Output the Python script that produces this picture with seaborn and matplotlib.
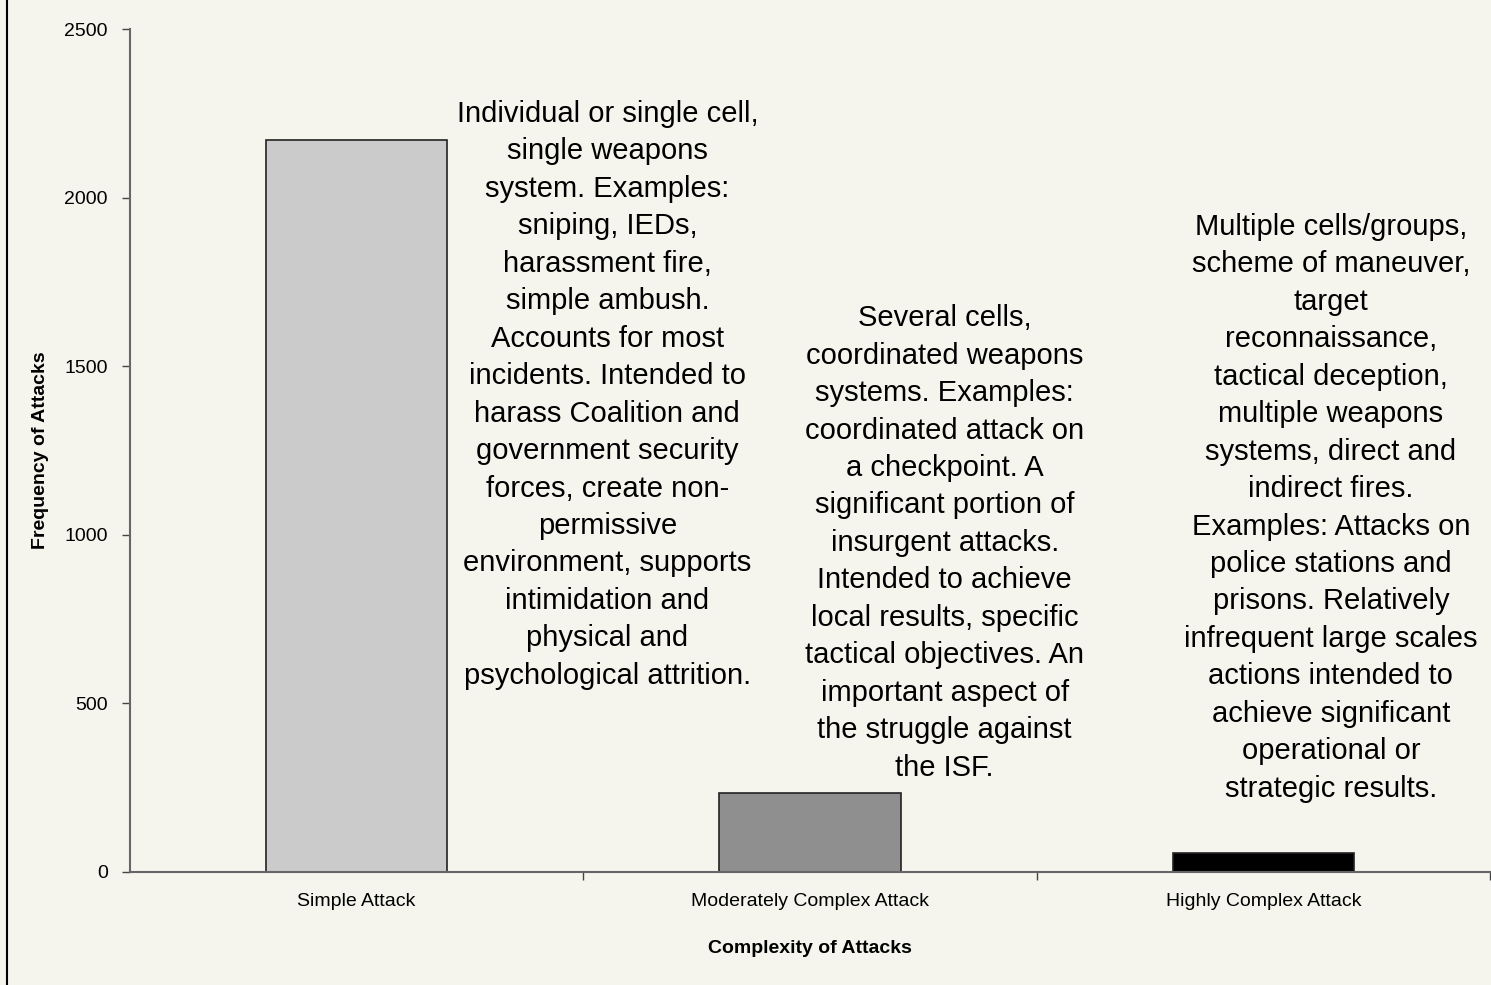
import seaborn as sns
import pandas as pd
import matplotlib.pyplot as plt
from matplotlib.lines import Line2D
from matplotlib.ticker import FixedLocator

categories = ["Simple Attack", "Moderately Complex Attack", "Highly Complex Attack"]
attacks = [2170, 234, 56]
bar_colors = ["#cbcbcb", "#8f8f8f", "#000000"]

notes = [
    "Individual or single cell,\nsingle weapons\nsystem. Examples:\nsniping, IEDs,\n"
    "harassment fire,\nsimple ambush.\nAccounts for most\nincidents. Intended to\n"
    "harass Coalition and\ngovernment security\nforces, create non-\npermissive\n"
    "environment, supports\nintimidation and\nphysical and\npsychological attrition.",
    "Several cells,\ncoordinated weapons\nsystems. Examples:\ncoordinated attack on\n"
    "a checkpoint. A\nsignificant portion of\ninsurgent attacks.\nIntended to achieve\n"
    "local results, specific\ntactical objectives. An\nimportant aspect of\n"
    "the struggle against\nthe ISF.",
    "Multiple cells/groups,\nscheme of maneuver,\ntarget\nreconnaissance,\n"
    "tactical deception,\nmultiple weapons\nsystems, direct and\nindirect fires.\n"
    "Examples: Attacks on\npolice stations and\nprisons. Relatively\n"
    "infrequent large scales\nactions intended to\nachieve significant\n"
    "operational or\nstrategic results.",
]

df = pd.DataFrame({"complexity": categories, "attacks": attacks})

bg = "#f5f5ee"
sns.set_style("white")
plt.rcParams["font.family"] = ["Liberation Sans", "DejaVu Sans"]
plt.rcParams["text.color"] = "black"
plt.rcParams["axes.labelcolor"] = "black"
plt.rcParams["xtick.color"] = "black"
plt.rcParams["ytick.color"] = "black"

fig = plt.figure(figsize=(14.91, 9.85), dpi=100, facecolor=bg)
ax = fig.add_axes([130 / 1491, 1 - 872 / 985, 1360 / 1491, 843 / 985])
ax.set_facecolor(bg)

sns.barplot(
    data=df,
    x="complexity",
    y="attacks",
    hue="complexity",
    palette=bar_colors,
    legend=False,
    width=0.4,
    edgecolor="#222222",
    linewidth=1.2,
    saturation=1,
    ax=ax,
)

ax.set_xlim(-0.5, 2.5)
ax.set_ylim(0, 2500)
ax.set_yticks(range(0, 2501, 500))

for spine in ["top", "right"]:
    ax.spines[spine].set_visible(False)
for spine in ["left", "bottom"]:
    ax.spines[spine].set_color("#666666")
    ax.spines[spine].set_linewidth(1.5)

ax.tick_params(axis="y", direction="out", length=6, width=1, color="#444444",
               pad=10, labelsize=14, left=True)
ax.tick_params(axis="x", which="major", length=0, pad=15, labelsize=14)
ax.xaxis.set_minor_locator(FixedLocator([0.5, 1.5, 2.5]))
ax.tick_params(axis="x", which="minor", direction="out", length=6, width=1,
               color="#444444", bottom=True)

ax.set_xlabel("Complexity of Attacks", fontsize=14, fontweight="bold", labelpad=22)
ax.set_ylabel("Frequency of Attacks", fontsize=14, fontweight="bold", labelpad=11)

note_x = [0.553, 1.297, 2.149]
note_y = [1415, 976, 1080]
for x, y, t in zip(note_x, note_y, notes):
    ax.text(x, y, t, ha="center", va="center", fontsize=21, linespacing=1.43,
            multialignment="center")

fig.add_artist(Line2D([7 / 1491, 7 / 1491], [0, 1], transform=fig.transFigure,
                      color="black", linewidth=1.5))

plt.savefig("out.png", dpi=100, facecolor=bg)
